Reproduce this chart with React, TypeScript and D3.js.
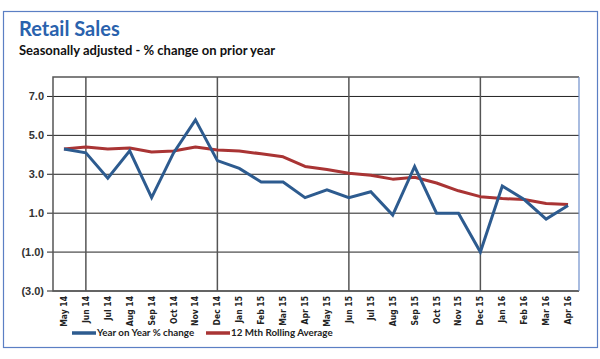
import React, { useEffect, useRef } from 'react';
import * as d3 from 'd3';

const months = [
  'May 14', 'Jun 14', 'Jul 14', 'Aug 14', 'Sep 14', 'Oct 14', 'Nov 14', 'Dec 14',
  'Jan 15', 'Feb 15', 'Mar 15', 'Apr 15', 'May 15', 'Jun 15', 'Jul 15', 'Aug 15',
  'Sep 15', 'Oct 15', 'Nov 15', 'Dec 15', 'Jan 16', 'Feb 16', 'Mar 16', 'Apr 16',
];
const yoyChange = [
  4.3, 4.1, 2.8, 4.2, 1.8, 4.1, 5.8, 3.7,
  3.3, 2.6, 2.6, 1.8, 2.2, 1.8, 2.1, 0.9,
  3.4, 1.0, 1.0, -1.0, 2.4, 1.7, 0.7, 1.4,
];
const rollingAvg = [
  4.3, 4.4, 4.3, 4.35, 4.15, 4.2, 4.4, 4.25,
  4.2, 4.05, 3.9, 3.4, 3.25, 3.05, 2.95, 2.75,
  2.85, 2.55, 2.15, 1.85, 1.75, 1.7, 1.5, 1.45,
];
const yTicks = [-3, -1, 1, 3, 5, 7];
const vLines = ['Jun 14', 'Dec 14', 'Jun 15', 'Dec 15'];
const legendItems = [
  { name: 'Year on Year % change', color: '#2d5b8f' },
  { name: '12 Mth Rolling Average', color: '#a93434' },
];

const App = () => {
  const svgRef = useRef<SVGSVGElement>(null);

  useEffect(() => {
    const svg = d3.select(svgRef.current);
    svg.selectAll('*').remove();

    const left = 53, right = 579, top = 77, bottom = 291;

    svg.append('rect').attr('width', 600).attr('height', 359).attr('fill', '#fff');

    // outer frame
    svg.append('rect')
      .attr('x', 3.5).attr('y', 11.5).attr('width', 594).attr('height', 336)
      .attr('fill', 'none').attr('stroke', '#5b7fc4').attr('stroke-width', 1.2);

    svg.append('text')
      .attr('x', 19).attr('y', 36)
      .attr('font-family', 'Lato, sans-serif').attr('font-weight', 'bold')
      .attr('font-size', 20).attr('fill', '#2a62ad')
      .text('Retail Sales');
    svg.append('text')
      .attr('x', 19).attr('y', 55)
      .attr('font-family', 'Lato, sans-serif').attr('font-weight', 'bold')
      .attr('font-size', 13).attr('fill', '#111')
      .text('Seasonally adjusted - % change on prior year');

    const x = d3.scaleBand().domain(months).range([left, right]);
    const xc = (m: string) => (x(m) as number) + x.bandwidth() / 2;
    const y = d3.scaleLinear().domain([-3, 8]).range([bottom, top]);

    const g = svg.append('g');

    // horizontal gridlines
    g.selectAll('.hgrid').data(yTicks).enter().append('line')
      .attr('x1', left - 6).attr('x2', right)
      .attr('y1', d => y(d)).attr('y2', d => y(d))
      .attr('stroke', '#222').attr('stroke-width', 1);

    // vertical gridlines
    g.selectAll('.vgrid').data(vLines).enter().append('line')
      .attr('x1', d => xc(d)).attr('x2', d => xc(d))
      .attr('y1', top).attr('y2', bottom)
      .attr('stroke', '#555').attr('stroke-width', 1.5);

    // plot border
    g.append('path')
      .attr('d', `M${right},${top}H${left}V${bottom}H${right}`)
      .attr('fill', 'none').attr('stroke', '#555').attr('stroke-width', 1.5);
    g.append('line')
      .attr('x1', right).attr('x2', right).attr('y1', top).attr('y2', bottom)
      .attr('stroke', '#6f8fcc').attr('stroke-width', 1.2);

    // y labels
    g.selectAll('.ylab').data(yTicks).enter().append('text')
      .attr('x', 44).attr('y', d => y(d)).attr('dy', '0.35em')
      .attr('text-anchor', 'end')
      .attr('font-family', 'Liberation Sans, Arial, sans-serif').attr('font-weight', 'bold')
      .attr('font-size', 11).attr('fill', '#333')
      .text(d => (d < 0 ? `(${Math.abs(d).toFixed(1)})` : d.toFixed(1)));

    // x labels
    g.selectAll('.xlab').data(months).enter().append('text')
      .attr('transform', d => `translate(${xc(d)},${bottom + 5}) rotate(-90)`)
      .attr('dy', '0.35em')
      .attr('text-anchor', 'end')
      .attr('font-family', 'DejaVu Sans Condensed, sans-serif').attr('font-weight', 'bold')
      .attr('font-size', 8.5).attr('fill', '#222')
      .text(d => d);

    const line = d3.line<number>()
      .x((_, i) => xc(months[i]))
      .y(d => y(d));

    g.append('path').datum(rollingAvg)
      .attr('d', line).attr('fill', 'none')
      .attr('stroke', legendItems[1].color).attr('stroke-width', 3)
      .attr('stroke-linejoin', 'round');
    g.append('path').datum(yoyChange)
      .attr('d', line).attr('fill', 'none')
      .attr('stroke', legendItems[0].color).attr('stroke-width', 3)
      .attr('stroke-linejoin', 'miter');

    // legend
    const legendX = [72, 206];
    const legend = svg.selectAll('.legend').data(legendItems).enter().append('g')
      .attr('transform', (_, i) => `translate(${legendX[i]},333)`);
    legend.append('line')
      .attr('x1', 0).attr('x2', 24).attr('y1', 0).attr('y2', 0)
      .attr('stroke', d => d.color).attr('stroke-width', 3.5);
    legend.append('text')
      .attr('x', 25).attr('dy', '0.35em')
      .attr('font-family', 'Lato, sans-serif').attr('font-weight', 'bold')
      .attr('font-size', 9.8).attr('fill', '#222')
      .text(d => d.name);
  }, []);

  return <svg ref={svgRef} width={600} height={359} style={{ position: 'absolute', left: 0, top: 0 }} />;
};

export default App;
